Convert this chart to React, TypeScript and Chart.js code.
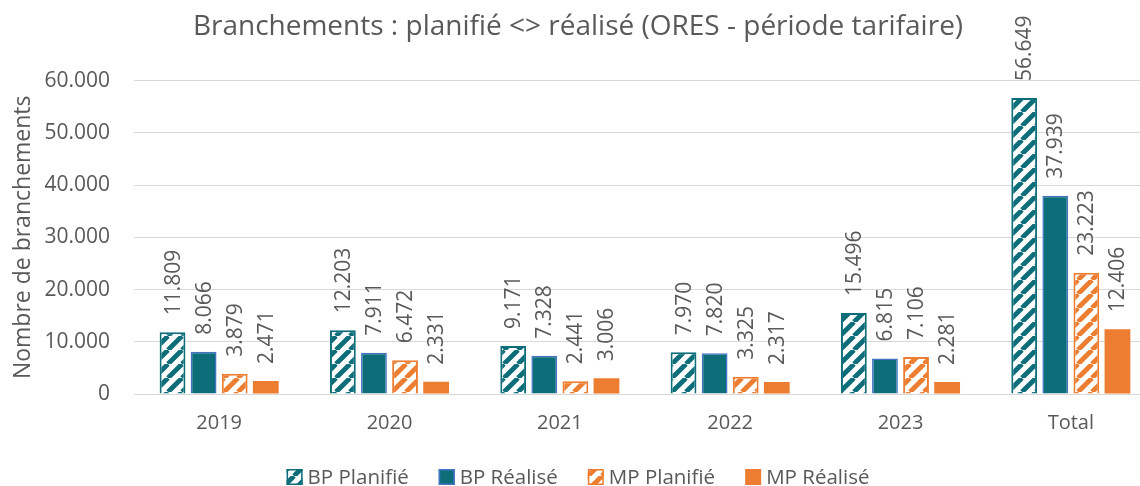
import React, { useEffect, useRef } from "react";
import { Chart, registerables } from "chart.js";

Chart.register(...registerables);

const categories = ["2019", "2020", "2021", "2022", "2023", "Total"];
const bpPlanifie = [11809, 12203, 9171, 7970, 15496, 56649];
const bpRealise = [8066, 7911, 7328, 7820, 6815, 37939];
const mpPlanifie = [3879, 6472, 2441, 3325, 7106, 23223];
const mpRealise = [2471, 2331, 3006, 2317, 2281, 12406];
const seriesNames = ["BP Planifié", "BP Réalisé", "MP Planifié", "MP Réalisé"];
const yTicks = [0, 10000, 20000, 30000, 40000, 50000, 60000];

const TEAL = "#0D6E7A";
const ORANGE = "#ED7D31";
const BLUE_BORDER = "#4472C4";
const TEXT = "#595959";
const GRID = "#D9D9D9";
const FONT = "'Open Sans', 'Noto Sans', sans-serif";

function fmt(v: number): string {
  return String(Math.round(v)).replace(/\B(?=(\d{3})+(?!\d))/g, ".");
}

function hatch(color: string): CanvasPattern | string {
  const s = 14;
  const c = document.createElement("canvas");
  c.width = s;
  c.height = s;
  const ctx = c.getContext("2d");
  if (!ctx) return color;
  ctx.fillStyle = "#FFFFFF";
  ctx.fillRect(0, 0, s, s);
  ctx.strokeStyle = color;
  ctx.lineWidth = 4.8;
  ctx.beginPath();
  for (const o of [-s, 0, s]) {
    ctx.moveTo(o, s);
    ctx.lineTo(o + s, 0);
  }
  ctx.stroke();
  const p = ctx.createPattern(c, "repeat");
  return p || color;
}

const valueLabels = {
  id: "valueLabels",
  afterDatasetsDraw(chart: any) {
    const ctx = chart.ctx;
    ctx.save();
    ctx.fillStyle = TEXT;
    ctx.font = `21px ${FONT}`;
    ctx.textAlign = "left";
    ctx.textBaseline = "middle";
    chart.data.datasets.forEach((ds: any, di: number) => {
      const meta = chart.getDatasetMeta(di);
      meta.data.forEach((el: any, i: number) => {
        const v = ds.data[i];
        ctx.save();
        ctx.translate(el.x + 1, el.y - 17);
        ctx.rotate(-Math.PI / 2);
        ctx.fillText(fmt(v), 0, 0);
        ctx.restore();
      });
    });
    ctx.restore();
  },
};

const LEGEND_BOX = 16;
const LEGEND_TEXT_GAP = 5;
const LEGEND_ITEM_GAP = 30;
const LEGEND_Y = 477;

const customLegend = {
  id: "customLegend",
  afterDraw(chart: any) {
    const ctx = chart.ctx;
    ctx.save();
    ctx.font = `20.5px ${FONT}`;
    ctx.textBaseline = "middle";
    ctx.textAlign = "left";
    const items = chart.data.datasets.map((ds: any) => ({
      label: ds.label as string,
      fill: ds.backgroundColor,
      stroke: ds.borderColor,
      bw: ds.borderWidth,
      w: ctx.measureText(ds.label).width,
    }));
    const total =
      items.reduce((a: number, it: any) => a + LEGEND_BOX + LEGEND_TEXT_GAP + it.w, 0) +
      LEGEND_ITEM_GAP * (items.length - 1);
    let x = chart.width / 2 - total / 2;
    const y = LEGEND_Y;
    items.forEach((it: any) => {
      const top = y - LEGEND_BOX / 2;
      ctx.fillStyle = it.fill;
      ctx.fillRect(x, top, LEGEND_BOX, LEGEND_BOX);
      if (it.bw > 0) {
        ctx.strokeStyle = it.stroke;
        ctx.lineWidth = Math.min(it.bw, 1.5);
        ctx.strokeRect(x + 0.75, top + 0.75, LEGEND_BOX - 1.5, LEGEND_BOX - 1.5);
      }
      ctx.fillStyle = TEXT;
      ctx.fillText(it.label, x + LEGEND_BOX + LEGEND_TEXT_GAP, y + 1);
      x += LEGEND_BOX + LEGEND_TEXT_GAP + it.w + LEGEND_ITEM_GAP;
    });
    ctx.restore();
  },
};

export default function App() {
  const ref = useRef<HTMLCanvasElement | null>(null);

  useEffect(() => {
    document.body.style.margin = "0";
    if (!ref.current) return;
    const tealHatch = hatch(TEAL);
    const orangeHatch = hatch(ORANGE);
    const chart = new Chart(ref.current, {
      type: "bar",
      data: {
        labels: categories,
        datasets: [
          {
            label: seriesNames[0],
            data: bpPlanifie,
            backgroundColor: tealHatch as any,
            borderColor: TEAL,
            borderWidth: 2,
          },
          {
            label: seriesNames[1],
            data: bpRealise,
            backgroundColor: TEAL,
            borderColor: BLUE_BORDER,
            borderWidth: 1.5,
          },
          {
            label: seriesNames[2],
            data: mpPlanifie,
            backgroundColor: orangeHatch as any,
            borderColor: ORANGE,
            borderWidth: 2,
          },
          {
            label: seriesNames[3],
            data: mpRealise,
            backgroundColor: ORANGE,
            borderColor: ORANGE,
            borderWidth: 0,
          },
        ],
      },
      options: {
        responsive: false,
        animation: false,
        datasets: {
          bar: { categoryPercentage: 0.73, barPercentage: 0.83 },
        },
        layout: { padding: { left: 0, right: 0, top: 0, bottom: 34 } },
        plugins: {
          title: {
            display: true,
            text: "Branchements : planifié <> réalisé (ORES - période tarifaire)",
            color: TEXT,
            font: { family: FONT, size: 28, weight: "normal" },
            padding: { top: 10, bottom: 37 },
          },
          legend: { display: false },
          tooltip: { enabled: false },
        },
        scales: {
          x: {
            grid: { display: false, drawTicks: false },
            border: { display: true, color: GRID },
            ticks: { color: TEXT, font: { family: FONT, size: 20 }, padding: 17 },
          },
          y: {
            min: 0,
            max: 60000,
            afterFit: (scale: any) => {
              scale.width = 134;
            },
            afterBuildTicks: (scale: any) => {
              scale.ticks = yTicks.map((v) => ({ value: v }));
            },
            grid: { color: GRID, drawTicks: false, lineWidth: 1 },
            border: { display: false },
            ticks: {
              color: TEXT,
              font: { family: FONT, size: 21 },
              padding: 24,
              callback: (v: any) => fmt(Number(v)),
            },
            title: {
              display: true,
              text: "Nombre de branchements",
              color: TEXT,
              font: { family: FONT, size: 23 },
              padding: { top: 10, bottom: 0 },
            },
          },
        },
      },
      plugins: [valueLabels, customLegend],
    });
    return () => chart.destroy();
  }, []);

  return (
    <div style={{ width: 1140, height: 486, overflow: "hidden", position: "relative" }}>
      <canvas ref={ref} width={1156} height={486} style={{ display: "block" }} />
    </div>
  );
}
